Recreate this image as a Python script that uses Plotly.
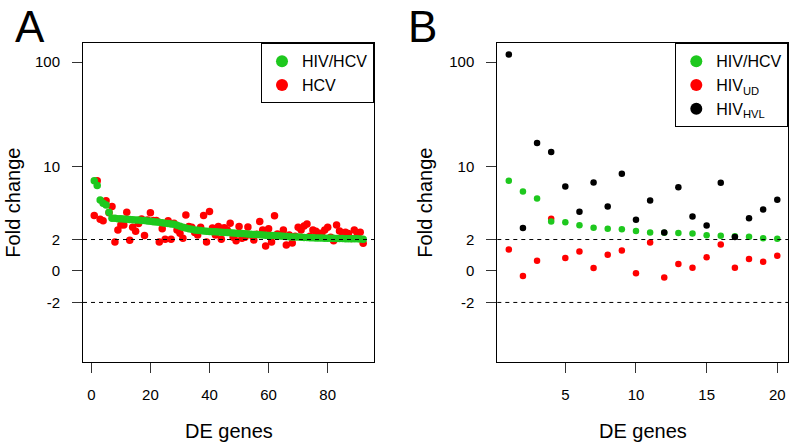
import math
import plotly.graph_objects as go

# ---------------- data ----------------
genes_a = list(range(1, 93))
hiv_hcv_a = [7.29, 6.58, 4.79, 4.45, 4.29, 3.65, 3.20, 3.19, 3.17, 3.16,
             3.14, 3.13, 3.11, 3.10, 3.08, 3.07, 3.05, 3.04, 3.01, 2.99,
             2.96, 2.94, 2.92, 2.90, 2.87, 2.85, 2.82, 2.80, 2.74, 2.68,
             2.62, 2.58, 2.54, 2.51, 2.47, 2.46, 2.44, 2.42, 2.40, 2.39,
             2.38, 2.37, 2.36, 2.35, 2.34, 2.33, 2.32, 2.31, 2.30, 2.29,
             2.28, 2.27, 2.26, 2.25, 2.24, 2.23, 2.22, 2.21, 2.20, 2.19,
             2.19, 2.18, 2.17, 2.16, 2.15, 2.14, 2.13, 2.12, 2.11, 2.11,
             2.10, 2.09, 2.09, 2.08, 2.08, 2.07, 2.07, 2.07, 2.06, 2.06,
             2.06, 2.06, 2.05, 2.05, 2.05, 2.04, 2.04, 2.04, 2.03, 2.03,
             2.02, 2.01]
hcv_a = [3.39, 7.29, 3.13, 3.02, 4.69, 3.60, 4.14, 1.85, 2.47, 2.76,
         2.76, 3.65, 1.95, 2.62, 2.40, 2.85, 3.15, 2.18, 3.08, 3.60,
         3.04, 3.04, 1.85, 2.53, 2.01, 3.02, 2.01, 2.87, 2.47, 2.30,
         2.06, 3.44, 2.66, 2.62, 2.33, 2.21, 2.62, 3.39, 1.85, 3.71,
         2.58, 2.21, 2.66, 2.01, 2.60, 2.47, 2.87, 2.10, 1.93, 2.66,
         2.06, 2.10, 2.64, 2.21, 1.97, 2.25, 2.97, 2.47, 1.59, 2.53,
         1.85, 3.37, 2.26, 2.20, 2.47, 1.66, 2.21, 1.78, 2.15, 2.62,
         2.47, 2.70, 2.82, 2.15, 2.47, 2.40, 2.30, 2.30, 2.47, 2.62,
         2.10, 1.93, 2.76, 2.42, 2.31, 2.35, 2.28, 2.05, 2.47, 2.30,
         2.35, 1.76]

genes_b = list(range(1, 21))
hiv_hcv_b = [7.30, 5.75, 4.93, 2.97, 2.93, 2.74, 2.60, 2.53, 2.51, 2.42,
             2.33, 2.32, 2.31, 2.28, 2.20, 2.17, 2.15, 2.13, 2.06, 2.03]
hiv_ud_b = [1.37, -0.32, 0.65, 3.17, 0.82, 1.24, 0.19, 1.03, 1.31, -0.15,
            1.81, -0.42, 0.44, 0.21, 0.88, 1.68, 0.21, 0.76, 0.59, 0.97]
hiv_hvl_b = [117.8, 2.58, 16.8, 13.8, 6.43, 3.68, 7.02, 4.14, 8.51, 3.10,
             4.72, 2.33, 6.34, 3.32, 2.72, 6.98, 2.12, 3.20, 3.87, 4.80]

y_tick_values = [-2, 0, 2, 10, 100]
y_tick_labels = ["-2", "0", "2", "10", "100"]


def fc_axis(v):
    """Fold change -> axis position: log10 beyond +-2, linear in between."""
    if abs(v) >= 2:
        return math.copysign(math.log10(abs(v)), v)
    return v * math.log10(2) / 2


def tr(vals):
    return [fc_axis(v) for v in vals]


GREEN = "#1ec81e"
RED = "#ff0000"
BLACK = "#000000"
FONT = "Liberation Sans, Arial, sans-serif"

W, H = 793, 447


def px(x):
    return x / W


def py(y):
    return 1 - y / H


fig = go.Figure()

# Panel A (red under green)
fig.add_trace(go.Scatter(x=genes_a, y=tr(hcv_a), mode="markers", name="HCV",
                         marker=dict(color=RED, size=7.5, line=dict(width=0)),
                         xaxis="x", yaxis="y", legend="legend", legendrank=2))
fig.add_trace(go.Scatter(x=genes_a, y=tr(hiv_hcv_a), mode="markers", name="HIV/HCV",
                         marker=dict(color=GREEN, size=7.5, line=dict(width=0)),
                         xaxis="x", yaxis="y", legend="legend", legendrank=1))

# Panel B
fig.add_trace(go.Scatter(x=genes_b, y=tr(hiv_ud_b), mode="markers", name="HIV<sub>UD</sub>",
                         marker=dict(color=RED, size=6.5, line=dict(width=0)),
                         xaxis="x2", yaxis="y2", legend="legend2", legendrank=2))
fig.add_trace(go.Scatter(x=genes_b, y=tr(hiv_hcv_b), mode="markers", name="HIV/HCV",
                         marker=dict(color=GREEN, size=6.5, line=dict(width=0)),
                         xaxis="x2", yaxis="y2", legend="legend2", legendrank=1))
fig.add_trace(go.Scatter(x=genes_b, y=tr(hiv_hvl_b), mode="markers", name="HIV<sub>HVL</sub>",
                         marker=dict(color=BLACK, size=6.5, line=dict(width=0)),
                         xaxis="x2", yaxis="y2", legend="legend2", legendrank=3))

yr = [-0.871, 2.179]
ydom = [py(362), py(43.3)]

axis_common = dict(showgrid=False, zeroline=False, showline=True, linecolor="black",
                   linewidth=1, mirror=True, ticks="outside", ticklen=10,
                   tickcolor="#333", ticklabelstandoff=9,
                   tickfont=dict(size=15, color="black", family=FONT))

ytv = tr(y_tick_values)

fig.update_layout(
    width=W, height=H,
    margin=dict(l=0, r=0, t=0, b=0),
    paper_bgcolor="white", plot_bgcolor="white",
    font=dict(family=FONT, color="black"),
    xaxis=dict(domain=[px(83), px(374)], range=[-2.81, 95.67], tickvals=[0, 20, 40, 60, 80],
               anchor="y", **axis_common),
    yaxis=dict(domain=ydom, range=yr, tickvals=ytv, ticktext=y_tick_labels,
               anchor="x", **axis_common),
    xaxis2=dict(domain=[px(497.3), px(788.3)], range=[0.186, 20.78], tickvals=[5, 10, 15, 20],
                anchor="y2", **axis_common),
    yaxis2=dict(domain=ydom, range=yr, tickvals=ytv, ticktext=y_tick_labels,
                anchor="x2", **axis_common),
    legend=dict(x=px(374), xanchor="right", y=ydom[1], yanchor="top",
                bordercolor="black", borderwidth=1, bgcolor="white",
                font=dict(size=16, family=FONT, color="black"),
                itemsizing="constant", tracegroupgap=0),
    legend2=dict(x=px(788.3), xanchor="right", y=ydom[1], yanchor="top",
                 bordercolor="black", borderwidth=1, bgcolor="white",
                 font=dict(size=16, family=FONT, color="black"),
                 itemsizing="constant", tracegroupgap=0),
    showlegend=True,
)

# dashed reference lines at +2 and -2
for xr, yref in (("x domain", "y"), ("x2 domain", "y2")):
    for v in (2, -2):
        fig.add_shape(type="line", xref=xr, yref=yref, x0=0, x1=1,
                      y0=fc_axis(v), y1=fc_axis(v),
                      line=dict(color="black", width=1, dash="4px,4px"))

# axis titles
for cx in ((83 + 374) / 2, (497.3 + 788.3) / 2):
    fig.add_annotation(text="DE genes", x=px(cx), y=py(431), xref="paper", yref="paper",
                       showarrow=False, font=dict(size=20, family=FONT, color="black"),
                       xanchor="center", yanchor="middle")
for cx in (13, 425):
    fig.add_annotation(text="Fold change", x=px(cx), y=(ydom[0] + ydom[1]) / 2,
                       xref="paper", yref="paper", textangle=-90, showarrow=False,
                       font=dict(size=20, family=FONT, color="black"),
                       xanchor="center", yanchor="middle")

# panel letters
for txt, cx in (("A", 30), ("B", 422)):
    fig.add_annotation(text=txt, x=px(cx), y=py(26.5), xref="paper", yref="paper",
                       showarrow=False, font=dict(size=44, family=FONT, color="black"),
                       xanchor="center", yanchor="middle", borderpad=0)

fig.write_html("out.html", config={"displayModeBar": False},
               post_script="document.body.style.margin='0';document.body.style.overflow='hidden';")
